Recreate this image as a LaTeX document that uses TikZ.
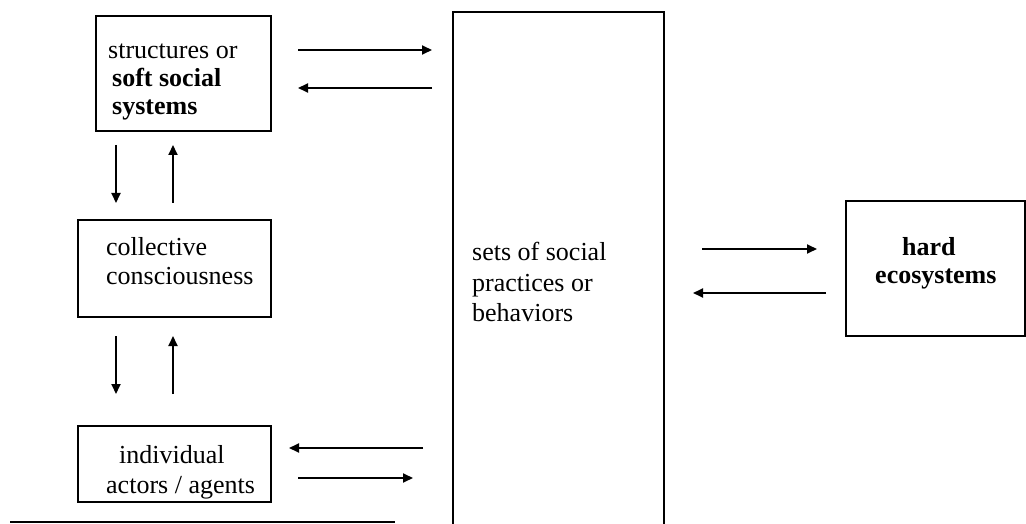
\documentclass[tikz,border=0pt]{standalone}
\usepackage{fontspec}
\setmainfont{Liberation Serif}
\usetikzlibrary{arrows.meta}
\begin{document}
\begin{tikzpicture}[x=1pt,y=-1pt,
  box/.style={draw=black,line width=1.6pt,inner sep=0pt,anchor=north west},
  txt/.style={inner sep=0pt,anchor=base west,font=\fontsize{26}{30}\selectfont},
  btxt/.style={txt,font=\fontsize{26}{30}\selectfont\bfseries},
  arr/.style={line width=1.9pt,-{Triangle[length=10pt,width=9pt]}}]
\clip (0,0) rectangle (1026,524);
\fill[white] (0,0) rectangle (1026,524);
% boxes
\node[box,minimum width=175pt,minimum height=115pt] (top) at (95,15) {};
\node[box,minimum width=193pt,minimum height=97pt] (coll) at (77,219) {};
\node[box,minimum width=193pt,minimum height=76pt] (ind) at (77,425) {};
\node[box,line width=2pt,minimum width=211pt,minimum height=540pt] (big) at (452,11) {};
\node[box,minimum width=179pt,minimum height=135pt] (hard) at (845,200) {};
% texts
\node[txt] (t1) at (108,59) {structures or};
\node[btxt] (t2) at (112,87) {soft social};
\node[btxt] (t3) at (112,115) {systems};
\node[txt] (c1) at (106,255) {collective};
\node[txt] (c2) at (106,284) {consciousness};
\node[txt] (i1) at (119,463) {individual};
\node[txt] (i2) at (106,493) {actors / agents};
\node[txt] (b1) at (472,260) {sets of social};
\node[txt] (b2) at (472,291) {practices or};
\node[txt] (b3) at (472,321) {behaviors};
\node[btxt] (h1) at (902,255) {hard};
\node[btxt] (h2) at (875,283) {ecosystems};
% arrow end points
\coordinate (a1s) at (298,50);  \coordinate (a1e) at (432,50);
\coordinate (a2s) at (432,88);  \coordinate (a2e) at (298,88);
\coordinate (v1s) at (116,145); \coordinate (v1e) at (116,203);
\coordinate (v2s) at (173,203); \coordinate (v2e) at (173,145);
\coordinate (v3s) at (116,336); \coordinate (v3e) at (116,394);
\coordinate (v4s) at (173,394); \coordinate (v4e) at (173,336);
\coordinate (b1s) at (423,448); \coordinate (b1e) at (289,448);
\coordinate (b2s) at (298,478); \coordinate (b2e) at (413,478);
\coordinate (h1s) at (702,249); \coordinate (h1e) at (817,249);
\coordinate (h2s) at (826,293); \coordinate (h2e) at (693,293);
\coordinate (ls) at (10,522);   \coordinate (le) at (395,522);
\foreach \s/\e in {a1s/a1e,a2s/a2e,v1s/v1e,v2s/v2e,v3s/v3e,v4s/v4e,b1s/b1e,b2s/b2e,h1s/h1e,h2s/h2e}
  \draw[arr] (\s) -- (\e);
\draw[line width=2.2pt] (ls) -- (le);
\end{tikzpicture}
\end{document}
